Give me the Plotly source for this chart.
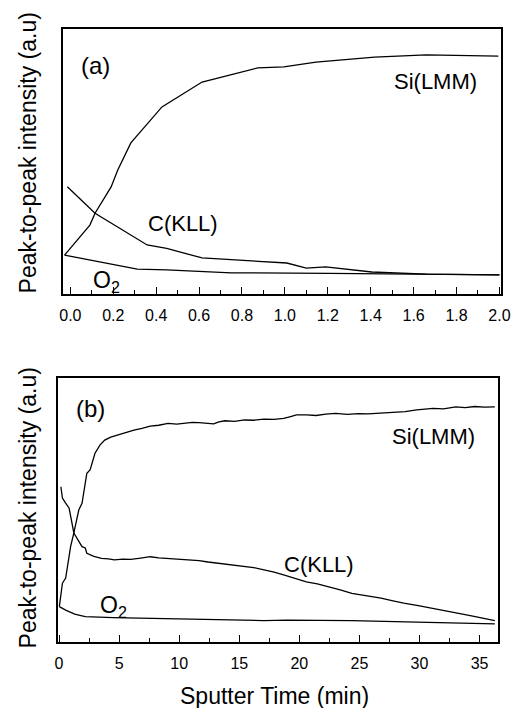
import plotly.graph_objects as go

W, H = 524, 708

# ---------------- data: panel (a) ----------------
a_si_x = [-0.027, 0.091, 0.115, 0.19, 0.221, 0.282, 0.427, 0.614, 0.873, 0.995, 1.145, 1.418, 1.659, 1.995]
a_si_y = [14.7, 26.0, 30.5, 40.4, 46.8, 57.0, 70.6, 80.0, 85.3, 85.7, 87.5, 89.4, 90.2, 89.8]

a_c_x = [-0.014, 0.091, 0.115, 0.358, 0.449, 0.614, 1.009, 1.10, 1.19, 1.405, 1.659, 2.0]
a_c_y = [40.5, 32.1, 30.5, 18.5, 17.2, 13.6, 11.7, 9.8, 10.2, 8.3, 7.5, 7.2]

a_o_x = [-0.027, 0.10, 0.312, 0.449, 0.75, 1.205, 1.659, 2.0]
a_o_y = [14.7, 12.8, 9.4, 9.1, 8.0, 7.8, 7.5, 7.2]

# ---------------- data: panel (b) ----------------
b_si_x = [0.02, 0.28, 0.55, 0.96, 1.23, 1.64, 1.91, 2.18, 2.31, 2.58, 2.99, 3.40, 3.80, 4.30, 4.89, 5.50,
          6.23, 6.90, 7.59, 8.30, 9.07, 9.80, 10.57, 11.10, 11.65, 12.30, 12.87, 13.30, 13.81, 14.60,
          15.44, 16.20, 17.06, 17.90, 18.69, 19.20, 19.76, 20.58, 21.40, 22.20, 23.01, 24.00, 24.90,
          25.71, 26.80, 27.88, 28.80, 29.77, 30.40, 31.13, 32.00, 33.02, 33.80, 34.60, 35.40, 36.27]
b_si_y = [13.4, 22.3, 24.2, 36.1, 41.3, 50.0, 52.5, 60.2, 63.9, 65.2, 71.5, 74.6, 76.5, 77.6, 78.4, 79.3,
          80.3, 80.9, 81.8, 82.1, 82.8, 82.5, 82.8, 83.2, 83.1, 82.8, 82.6, 83.4, 83.8, 83.6,
          84.1, 84.0, 84.4, 84.3, 84.7, 85.3, 86.0, 86.0, 85.8, 86.3, 86.6, 86.2, 86.5,
          86.4, 86.7, 86.9, 87.3, 87.9, 88.1, 88.5, 88.3, 89.1, 88.8, 89.2, 89.0, 89.1]

b_c_x = [0.15, 0.20, 0.28, 0.53, 0.83, 1.23, 1.64, 1.91, 2.18, 2.31, 2.90, 3.53, 4.10, 4.61, 5.30, 5.97,
         6.80, 7.59, 8.30, 8.94, 9.50, 10.02, 10.80, 11.65, 12.40, 13.27, 14.30, 15.44, 16.20, 17.06,
         17.90, 18.69, 19.20, 19.76, 20.58, 21.50, 22.47, 23.40, 24.37, 25.60, 26.80, 27.70, 28.69,
         29.90, 31.13, 32.10, 33.02, 33.80, 34.64, 35.40, 36.27]
b_c_y = [58.8, 56.8, 54.5, 52.7, 50.8, 41.3, 38.0, 36.1, 35.6, 33.6, 32.4, 31.7, 31.5, 31.1, 31.4, 31.3,
         31.8, 32.3, 31.9, 31.7, 31.5, 31.1, 31.0, 30.8, 30.3, 29.8, 29.4, 28.8, 28.2, 27.3,
         26.5, 25.4, 24.7, 23.8, 22.8, 22.0, 20.9, 19.7, 18.4, 17.6, 16.6, 15.7, 14.7,
         13.8, 12.8, 12.0, 11.1, 10.4, 9.6, 8.9, 8.1]

b_o_x = [0.02, 0.55, 1.30, 2.18, 4.50, 7.32, 11.65, 17.06, 18.95, 24.37, 29.77, 36.27]
b_o_y = [13.4, 12.1, 10.6, 9.6, 9.2, 9.0, 8.7, 8.1, 8.3, 8.1, 7.5, 6.9]

a_ticks = [0.0, 0.2, 0.4, 0.6, 0.8, 1.0, 1.2, 1.4, 1.6, 1.8, 2.0]
a_ticktext = ["0.0", "0.2", "0.4", "0.6", "0.8", "1.0", "1.2", "1.4", "1.6", "1.8", "2.0"]
b_ticks = [0, 5, 10, 15, 20, 25, 30, 35]
b_ticktext = ["0", "5", "10", "15", "20", "25", "30", "35"]

FONT = "Liberation Sans, Arial, sans-serif"
line = dict(color="black", width=1.3)

fig = go.Figure()
fig.add_trace(go.Scatter(x=a_si_x, y=a_si_y, mode="lines", line=line, xaxis="x", yaxis="y"))
fig.add_trace(go.Scatter(x=a_c_x, y=a_c_y, mode="lines", line=line, xaxis="x", yaxis="y"))
fig.add_trace(go.Scatter(x=a_o_x, y=a_o_y, mode="lines", line=line, xaxis="x", yaxis="y"))
fig.add_trace(go.Scatter(x=b_si_x, y=b_si_y, mode="lines", line=line, xaxis="x2", yaxis="y2"))
fig.add_trace(go.Scatter(x=b_c_x, y=b_c_y, mode="lines", line=line, xaxis="x2", yaxis="y2"))
fig.add_trace(go.Scatter(x=b_o_x, y=b_o_y, mode="lines", line=line, xaxis="x2", yaxis="y2"))


def px_x(p):
    return p / W


def px_y(p):
    return 1 - p / H


axis_common = dict(showline=True, linecolor="black", linewidth=1.6, mirror=True,
                   showgrid=False, zeroline=False)

fig.update_layout(
    width=W, height=H,
    margin=dict(l=0, r=0, t=0, b=0),
    paper_bgcolor="white", plot_bgcolor="white",
    showlegend=False,
    font=dict(family=FONT, color="black"),
    xaxis=dict(domain=[px_x(61), px_x(510)], range=[-0.032, 2.009], anchor="y",
               tickmode="array", tickvals=a_ticks, ticktext=a_ticktext,
               ticks="inside", ticklen=7, tickwidth=1.2, tickcolor="black",
               minor=dict(ticks="inside", ticklen=4, tickwidth=1, tickcolor="black", dtick=0.1, tick0=0),
               tickfont=dict(size=16, family=FONT, color="black"), ticklabelstandoff=6,
               **axis_common),
    yaxis=dict(domain=[px_y(294), px_y(29)], range=[0, 100], anchor="x",
               showticklabels=False, ticks="", **axis_common),
    xaxis2=dict(domain=[px_x(55), px_x(507)], range=[-0.12, 36.57], anchor="y2",
                tickmode="array", tickvals=b_ticks, ticktext=b_ticktext,
                ticks="inside", ticklen=7, tickwidth=1.2, tickcolor="black",
                minor=dict(ticks="inside", ticklen=4, tickwidth=1, tickcolor="black", dtick=2.5, tick0=0),
                tickfont=dict(size=16, family=FONT, color="black"), ticklabelstandoff=6,
                **axis_common),
    yaxis2=dict(domain=[px_y(642), px_y(378)], range=[0, 100], anchor="x2",
                showticklabels=False, ticks="", **axis_common),
)

ann = []


def add_text(text, x, y, size, angle=0, xanchor="center"):
    ann.append(dict(text=text, x=px_x(x), y=px_y(y), xref="paper", yref="paper",
                    showarrow=False, xanchor=xanchor, yanchor="middle", textangle=angle,
                    font=dict(size=size, family=FONT, color="black")))


add_text("Peak-to-peak intensity (a.u)", 25, 153, 23, angle=-90)
add_text("Peak-to-peak intensity (a.u)", 25, 508, 23, angle=-90)
add_text("Sputter Time (min)", 277, 696, 23)

add_text("(a)", 94, 65, 24)
add_text("Si(LMM)", 442, 82, 22)
add_text("C(KLL)", 184, 223, 22)
add_text("O<sub>2</sub>", 89, 281, 23, xanchor="left")

add_text("(b)", 89, 408, 24)
add_text("Si(LMM)", 440, 437, 22)
add_text("C(KLL)", 323, 564, 22)
add_text("O<sub>2</sub>", 96, 606, 23, xanchor="left")

fig.update_layout(annotations=ann)

fig.write_html("out.html")
